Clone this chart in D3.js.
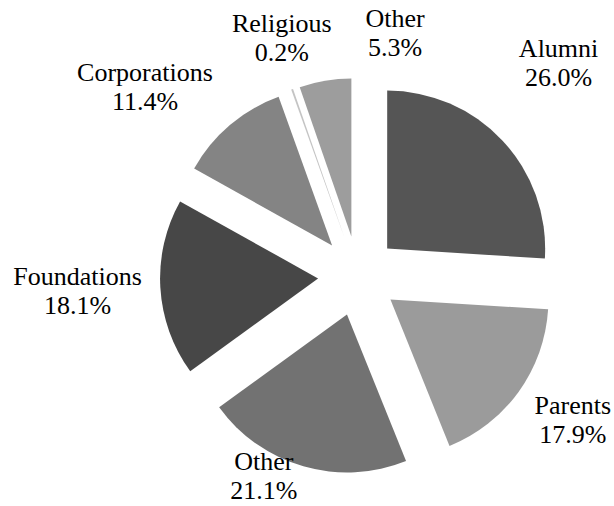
<!DOCTYPE html>
<html>
<head>
<meta charset="utf-8">
<script src="https://cdn.jsdelivr.net/npm/d3@7"></script>
<style>
  html, body { margin: 0; padding: 0; background: #ffffff; }
  svg { display: block; }
</style>
</head>
<body>
<div id="chart"></div>
<script>
// ---- data ----
const categories = ["Alumni", "Parents", "Other", "Foundations", "Corporations", "Religious", "Other"];
const values = [26.0, 17.9, 21.1, 18.1, 11.4, 0.2, 5.3];
const percentLabels = ["26.0%", "17.9%", "21.1%", "18.1%", "11.4%", "0.2%", "5.3%"];

// ---- styles / layout ----
const colors = ["#555555", "#9b9b9b", "#727272", "#474747", "#848484", "#c4c4c4", "#9d9d9d"];
// label placement (angle in degrees clockwise from 12 o'clock, distance from pie centre)
const labelAngles = [44.4, 125.4, 204.3, 265.3, 310.2, 341.6, 9.0];
const labelDists = [286.7, 263.6, 228.7, 281.4, 278.9, 241.7, 237.2];

const W = 614, H = 506;
const cx = 358, cy = 276;
const R = 158;
const explode = 40;
const fontSize = 26;
const lineGap = 29;
const fontStack = "Times New Roman, Liberation Serif, Tinos, serif";

const svg = d3.select("#chart").append("svg")
  .attr("width", W).attr("height", H)
  .attr("viewBox", `0 0 ${W} ${H}`);

svg.append("rect").attr("width", W).attr("height", H).attr("fill", "#ffffff");

const pie = d3.pie().sort(null).value(d => d.value).startAngle(0).endAngle(2 * Math.PI);
const arc = d3.arc().innerRadius(0).outerRadius(R);

const data = categories.map((c, i) => ({ name: c, value: values[i], pct: percentLabels[i], i }));
const arcs = pie(data);

const g = svg.append("g").attr("transform", `translate(${cx},${cy})`);

g.selectAll("path.slice")
  .data(arcs)
  .join("path")
  .attr("class", "slice")
  .attr("d", arc)
  .attr("fill", d => colors[d.data.i])
  .attr("transform", d => {
    const mid = (d.startAngle + d.endAngle) / 2;
    return `translate(${explode * Math.sin(mid)},${-explode * Math.cos(mid)})`;
  });

const labels = g.selectAll("text.lbl")
  .data(arcs)
  .join("text")
  .attr("class", "lbl")
  .attr("font-family", fontStack)
  .attr("font-size", fontSize)
  .attr("fill", "#000000")
  .attr("text-anchor", "middle");

labels.each(function(d) {
  const i = d.data.i;
  const a = labelAngles[i] * Math.PI / 180;
  const x = labelDists[i] * Math.sin(a);
  const y = -labelDists[i] * Math.cos(a);
  const t = d3.select(this);
  t.append("tspan").attr("x", x).attr("y", y - lineGap / 2).text(d.data.name);
  t.append("tspan").attr("x", x).attr("y", y + lineGap / 2).text(d.data.pct);
});
</script>
</body>
</html>
